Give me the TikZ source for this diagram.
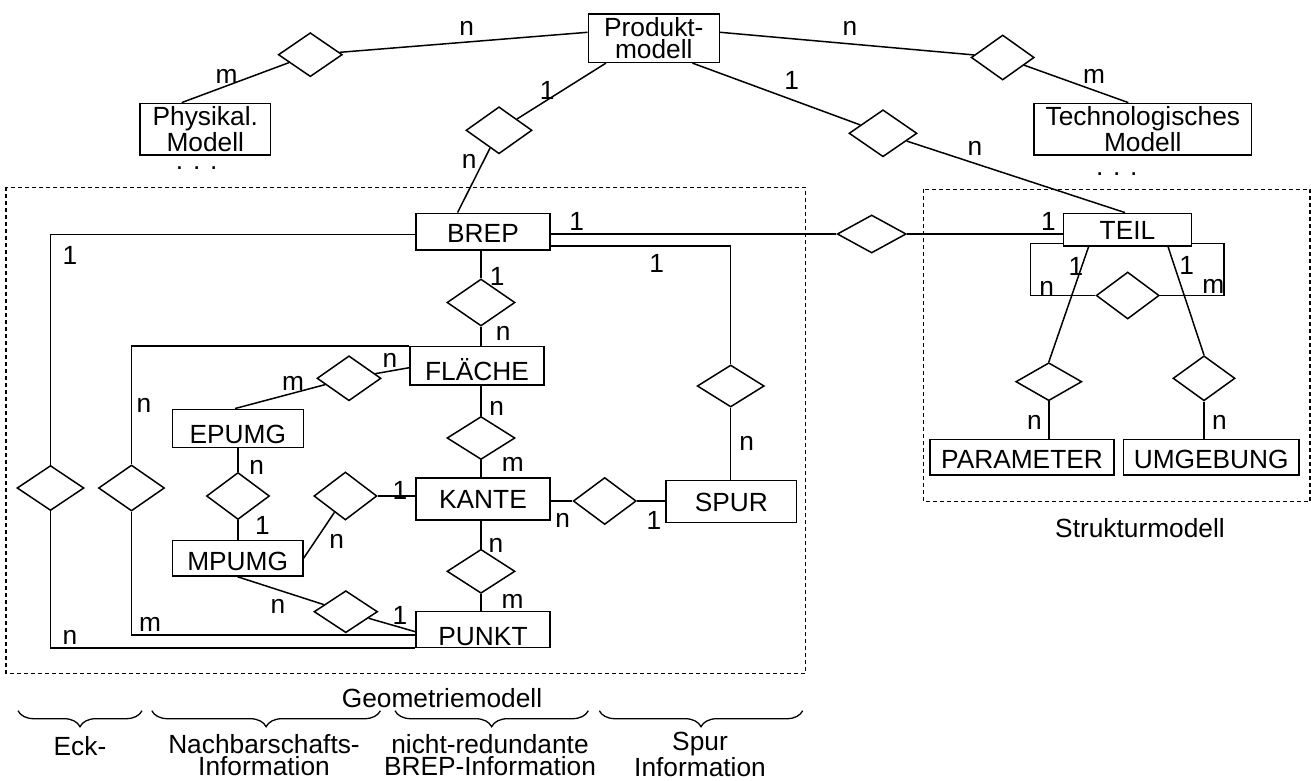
\documentclass[tikz,border=0pt]{standalone}
\usepackage{fontspec}
\setmainfont{Liberation Sans}
\usetikzlibrary{shapes.geometric,calc,decorations.pathreplacing}
\begin{document}
\begin{tikzpicture}[x=1pt,y=-1pt, line width=1.5pt,
  font=\fontsize{26.3}{22}\selectfont,
  ebox/.style={draw, rectangle, inner sep=0pt},
  mbox/.style={draw, rectangle, inner sep=0pt, align=center},
  th/.style={text height=#1, text depth=0pt},
  rel/.style 2 args={draw, diamond, inner sep=0pt, minimum width=#1, minimum height=#2},
  lab/.style={inner sep=0pt},
  grp/.style={line width=1.1pt, dash pattern=on 4pt off 3pt},
  brc/.style={decorate, decoration={brace, mirror, amplitude=16pt}, line width=1.3pt}]
\useasboundingbox (0,0) rectangle (1311,781);

% entity boxes
\node[mbox, minimum width=131pt, minimum height=48.3pt] (prod) at (653.8,38.2) {Produkt-\\modell};
\node[mbox, minimum width=130.7pt, minimum height=51.7pt] (phys) at (205.3,129.2) {Physikal.\\Modell};
\node[mbox, minimum width=217.7pt, minimum height=51.7pt] (tech) at (1142.8,129.2) {Technologisches\\Modell};
\node[ebox, th=22pt, minimum width=134pt, minimum height=36.7pt] (brep) at (483,231.7) {BREP};
\node[ebox, th=20.5pt, minimum width=128.4pt, minimum height=32.7pt] (teil) at (1127.5,229.7) {TEIL};
\node[ebox, th=28.8pt, minimum width=134pt, minimum height=38.3pt] (flae) at (477,365.8) {FLÄCHE};
\node[ebox, th=29.8pt, minimum width=131pt, minimum height=38.4pt] (epumg) at (237.8,428.5) {EPUMG};
\node[ebox, th=18.8pt, minimum width=134pt, minimum height=42pt] (kante) at (483,499) {KANTE};
\node[ebox, th=20.5pt, minimum width=130.7pt, minimum height=41.6pt] (spur) at (731.3,501.5) {SPUR};
\node[ebox, th=24pt, minimum width=130.4pt, minimum height=35.7pt] (mpumg) at (237.7,558.2) {MPUMG};
\node[ebox, th=32.8pt, minimum width=134pt, minimum height=35.6pt] (punkt) at (483,629.5) {PUNKT};
\node[ebox, th=22.5pt, minimum width=184pt, minimum height=35.7pt] (param) at (1022,457.2) {PARAMETER};
\node[ebox, th=22.5pt, minimum width=175.7pt, minimum height=35.7pt] (umg) at (1211.2,457.2) {UMGEBUNG};

% relationship diamonds
\node[rel={64pt}{44pt}] (dA) at (310.3,54.7) {};
\node[rel={63pt}{45pt}] (dC) at (1002.7,57.5) {};
\node[rel={66pt}{47pt}] (dB) at (499,130.3) {};
\node[rel={68pt}{47pt}] (dBb) at (883,133.3) {};
\node[rel={69pt}{38pt}] (dT) at (871.7,234) {};
\node[rel={67pt}{42pt}] (dS) at (730.7,386) {};
\node[rel={68pt}{47pt}] (dBF) at (481,302.5) {};
\node[rel={68pt}{43pt}] (dFK) at (481,438) {};
\node[rel={64pt}{45pt}] (dE) at (349,378.3) {};
\node[rel={67pt}{45pt}] (dLa) at (50.5,488) {};
\node[rel={66pt}{46pt}] (dLb) at (131.5,488) {};
\node[rel={63pt}{47pt}] (dM) at (238,496) {};
\node[rel={63pt}{48pt}] (dK) at (345.4,496) {};
\node[rel={63pt}{47pt}] (dKS) at (604.7,501) {};
\node[rel={68pt}{44pt}] (dKP) at (481,571.3) {};
\node[rel={63.5pt}{42pt}] (dP) at (345.8,611.7) {};
\node[rel={63pt}{47pt}] (dTT) at (1127.7,295.5) {};
\node[rel={66pt}{38pt}] (dPA) at (1048.8,381.7) {};
\node[rel={62pt}{45pt}] (dUM) at (1204,378.3) {};

\coordinate (lpL) at (1030.7,295.5);
\coordinate (lpR) at (1224,295.5);

% connectors
\draw (dA) -- ($(prod.west)+(0,-5.9)$);
\draw (dA) -- ($(phys.north)+(-23.6,0)$);
\draw ($(prod.east)+(0,-5.9)$) -- (dC);
\draw (dC) -- ($(tech.north)+(-14.5,0)$);
\draw ($(prod.south west)+(18.4,0)$) -- (dB);
\draw (dB) -- ($(brep.north west)+(42.3,0)$);
\draw ($(prod.south east)+(-27.6,0)$) -- (dBb);
\draw (dBb) -- ($(teil.north)+(-2.5,0)$);
\draw (brep.east |- dT.west) -- (dT.west);
\draw (dT.east) -- (teil.west |- dT.east);
\draw ($(brep.west)+(0,2.6)$) -| (dLa.north);
\draw ($(brep.east)+(0,14.3)$) -| (dS.north);
\draw (dS.south) -- (dS.south |- spur.north);
\draw (dBF.north |- brep.south) -- (dBF.north);
\draw (dBF.south) -- (dBF.south |- flae.north);
\draw (dFK.north |- flae.south) -- (dFK.north);
\draw (dFK.south) -- (dFK.south |- kante.north);
\draw (dKP.north |- kante.south) -- (dKP.north);
\draw (dKP.south) -- (dKP.south |- punkt.north);
\draw (flae.north west) -| (dLb.north);
\draw (dE) -- ($(flae.west)+(0,1.9)$);
\draw (dE) -- ($(epumg.north)+(-2.8,0)$);
\draw (dM.north |- epumg.south) -- (dM.north);
\draw (dM.south) -- (dM.south |- mpumg.north);
\draw (mpumg.east) -- (dK);
\draw (dK.east) -- (dK.east -| kante.west);
\draw (mpumg.south) -- (dP);
\draw (dP) -- ($(punkt.west)+(0,2.2)$);
\draw (dLa.south) |- (punkt.south west);
\draw (dLb.south) |- ($(punkt.west)+(0,5.5)$);
\draw (kante.east |- dKS.west) -- (dKS.west);
\draw (dKS.east) -- (dKS.east -| spur.west);
\draw ($(teil.south west)+(0,-3.3)$) -| (lpL) -- (dTT.west);
\draw ($(teil.south east)+(0,-3.3)$) -| (lpR) -- (dTT.east);
\draw ($(teil.south west)+(26,0)$) -- (dPA.north);
\draw ($(teil.south east)+(-24.4,0)$) -- (dUM.north);
\draw (dPA.south) -- (dPA.south |- param.north);
\draw (dUM.south) -- (dUM.south |- umg.north);

% cardinality labels
\node[lab] (c1) at (466.7,28.3) {n};
\node[lab] (c2) at (226.7,76.7) {m};
\node[lab] (c3) at (850,28) {n};
\node[lab] (c4) at (1094,76.7) {m};
\node[lab] (c5) at (547.3,90) {1};
\node[lab] (c6) at (791.7,80) {1};
\node[lab] (c7) at (469.3,161.7) {n};
\node[lab] (c8) at (975,148.3) {n};
\node[lab] (c9) at (576.7,221.7) {1};
\node[lab] (c10) at (70,255) {1};
\node[lab] (c11) at (656.7,263.3) {1};
\node[lab] (c12) at (1048.3,221.7) {1};
\node[lab] (c13) at (497.3,276.7) {1};
\node[lab] (c14) at (503.3,333.3) {n};
\node[lab] (c15) at (496.7,408.3) {n};
\node[lab] (c16) at (512.7,464) {m};
\node[lab] (c17) at (390,360) {n};
\node[lab] (c18) at (293,383) {m};
\node[lab] (c19) at (144,405) {n};
\node[lab] (c20) at (256.7,467) {n};
\node[lab] (c21) at (262.5,525) {1};
\node[lab] (c22) at (400,490) {1};
\node[lab] (c23) at (336.8,541.7) {n};
\node[lab] (c24) at (277.9,606.7) {n};
\node[lab] (c25) at (400,615) {1};
\node[lab] (c26) at (150,624) {m};
\node[lab] (c27) at (70,637) {n};
\node[lab] (c28) at (496,545) {n};
\node[lab] (c29) at (512.5,601.7) {m};
\node[lab] (c30) at (562.7,520) {n};
\node[lab] (c31) at (654,520) {1};
\node[lab] (c32) at (746.7,443.3) {n};
\node[lab] (c33) at (1046.7,288.3) {n};
\node[lab] (c34) at (1213.3,286.7) {m};
\node[lab] (c35) at (1076,266) {1};
\node[lab] (c36) at (1186.7,265) {1};
\node[lab] (c37) at (1034.3,422.7) {n};
\node[lab] (c38) at (1219.3,422.7) {n};

% dots
\node[lab, anchor=base] (dots1) at (196.7,169) {. . .};
\node[lab, anchor=base] (dots2) at (1116.7,175) {. . .};

% group frames
\draw[grp] (6,187.3) rectangle (805.7,673.3);
\draw[grp] (923.3,189.3) rectangle (1310,501.7);
\node[lab] (geo) at (442,698) {Geometriemodell};
\node[lab] (str) at (1140,528.3) {Strukturmodell};

% braces
\coordinate (ba1) at (18,710.7);   \coordinate (ba2) at (142,710.7);
\coordinate (bb1) at (151.8,710.7); \coordinate (bb2) at (380.4,710.7);
\coordinate (bc1) at (395,710.7);  \coordinate (bc2) at (588.3,710.7);
\coordinate (bd1) at (599.3,710.7); \coordinate (bd2) at (802.7,710.7);
\draw[brc] (ba1) -- (ba2);
\draw[brc] (bb1) -- (bb2);
\draw[brc] (bc1) -- (bc2);
\draw[brc] (bd1) -- (bd2);
\node[lab, anchor=base] (t1) at (80,755) {Eck-};
\node[lab, align=center] (t2) at (264,755.5) {Nachbarschafts-\\Information};
\node[lab, align=center] (t3) at (490,755.5) {nicht-redundante\\BREP-Information};
\node[lab, align=center] (t4) at (700,754.5) {Spur\\Information};
\end{tikzpicture}
\end{document}
